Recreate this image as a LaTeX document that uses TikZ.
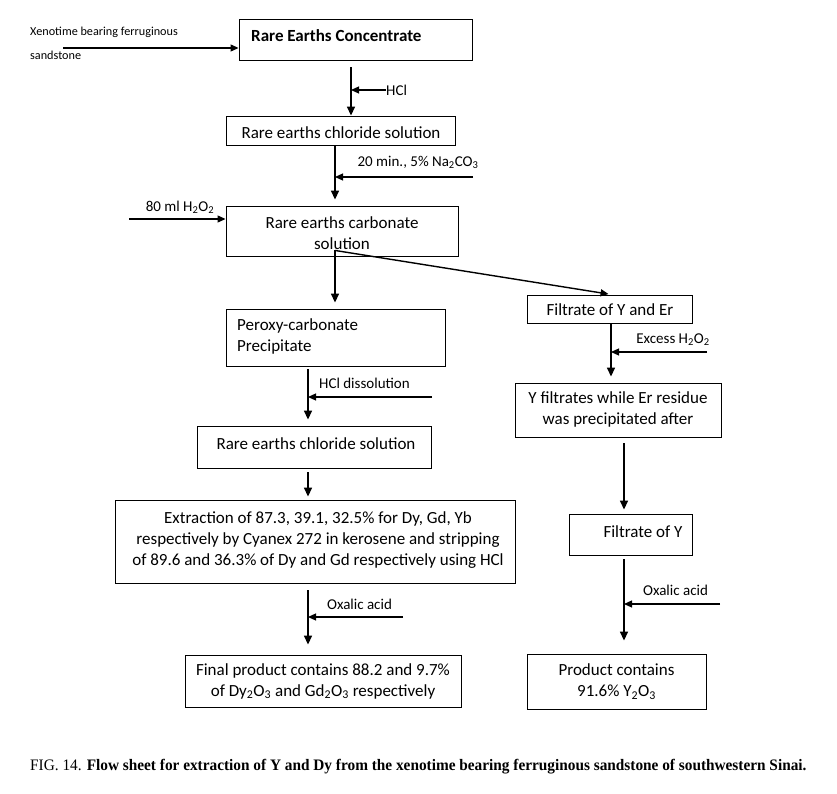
\documentclass[tikz,border=0pt]{standalone}
\usepackage{fontspec}
\setmainfont{Carlito}
\newfontfamily\capfont{Liberation Serif}
\usetikzlibrary{arrows.meta,calc}
\newcommand{\sbs}[1]{\textsubscript{#1}}
\tikzset{
  box/.style={draw, line width=0.9pt, inner sep=0pt, anchor=center},
  boxtxt/.style={font=\fontsize{17}{21}\selectfont, inner sep=0pt, align=center},
  sidetxt/.style={font=\fontsize{15}{17}\selectfont, inner sep=0pt},
  mainarr/.style={line width=1.6pt, -{Triangle[length=9pt,width=8pt]}},
  sidearr/.style={line width=1.2pt, -{Triangle[length=8pt,width=7pt]}},
}
\begin{document}
\begin{tikzpicture}[x=1pt,y=-1pt]
\useasboundingbox (0,0) rectangle (837,794);
% boxes
\node[box, minimum width=233pt, minimum height=41pt] (conc) at (355.5,39.5) {};
\node[anchor=west, inner sep=0pt, font=\fontsize{17}{19}\selectfont\bfseries] (conct) at (251,36) {Rare Earths Concentrate};
\node[box, minimum width=229pt, minimum height=29pt] (chl1) at (340.5,130.5) {};
\node[boxtxt] (chl1t) at (341,133) {Rare earths chloride solution};
\node[box, minimum width=232pt, minimum height=50pt] (carb) at (342,231) {};
\node[boxtxt] (carbt) at (342,233) {Rare earths carbonate\\solution};
\node[box, minimum width=219pt, minimum height=57pt] (perox) at (335.5,337.5) {};
\node[boxtxt, anchor=west, align=left] (peroxt) at (237,336) {Peroxy-carbonate\\Precipitate};
\node[box, minimum width=165pt, minimum height=28pt] (fye) at (609.5,309) {};
\node[boxtxt] (fyet) at (610,310) {Filtrate of Y and Er};
\node[box, minimum width=206pt, minimum height=54pt] (yfil) at (618,410) {};
\node[boxtxt] (yfilt) at (618,409) {Y filtrates while Er residue\\was precipitated after};
\node[box, minimum width=234pt, minimum height=42pt] (chl2) at (314,447) {};
\node[boxtxt] (chl2t) at (316,444) {Rare earths chloride solution};
\node[box, minimum width=400pt, minimum height=83pt] (ext) at (315,541.5) {};
\node[boxtxt] (extt) at (318,540) {Extraction of 87.3, 39.1, 32.5\% for Dy, Gd, Yb\\respectively by Cyanex 272 in kerosene and stripping\\of 89.6 and 36.3\% of Dy and Gd respectively using HCl};
\node[box, minimum width=276pt, minimum height=52pt] (final) at (323,681) {};
\node[boxtxt] (finalt) at (323,681) {Final product contains 88.2 and 9.7\%\\of Dy\sbs{2}O\sbs{3} and Gd\sbs{2}O\sbs{3} respectively};
\node[box, minimum width=123pt, minimum height=41pt] (fy) at (630.5,534.5) {};
\node[boxtxt] (fyt) at (643,532) {Filtrate of Y};
\node[box, minimum width=179pt, minimum height=55pt] (prod) at (616.5,681.5) {};
\node[boxtxt] (prodt) at (616.5,681.5) {Product contains\\91.6\% Y\sbs{2}O\sbs{3}};
% side labels
\node[anchor=west, inner sep=0pt, font=\fontsize{12.2}{14}\selectfont] (xen1) at (30,32) {Xenotime bearing ferruginous};
\node[anchor=west, inner sep=0pt, font=\fontsize{12.2}{14}\selectfont] (xen2) at (30,55) {sandstone};
\coordinate (xs) at (63,48);
\node[sidetxt, anchor=west] (hcl) at (386,90) {HCl};
\node[sidetxt] (na) at (418,162) {20 min., 5\% Na\sbs{2}CO\sbs{3}};
\coordinate (nas) at (473,177);
\node[sidetxt] (h2o2) at (180,207) {80 ml H\sbs{2}O\sbs{2}};
\coordinate (h2s) at (129,219);
\node[sidetxt] (exh) at (673,340) {Excess H\sbs{2}O\sbs{2}};
\coordinate (exs) at (707,352);
\node[sidetxt, anchor=west] (hcld) at (319,383) {HCl dissolution};
\coordinate (hcls) at (432,397);
\node[sidetxt, anchor=west] (ox1) at (327,604) {Oxalic acid};
\coordinate (ox1s) at (403,617);
\node[sidetxt, anchor=west] (ox2) at (643,590) {Oxalic acid};
\coordinate (ox2s) at (720,604);
% column coordinates
\coordinate (c1) at (351,0);
\coordinate (c2) at (335,0);
\coordinate (c3) at (611,0);
\coordinate (c4) at (308,0);
\coordinate (c5) at (624,0);
% arrows
\draw[sidearr] (xs) -- (xs -| conc.west);
\draw[mainarr, shorten <=7pt] (conc.south -| c1) -- (chl1.north -| c1);
\draw[sidearr] (hcl.west) -- (hcl.west -| c1);
\draw[mainarr, shorten >=6pt] (chl1.south -| c2) -- (carb.north -| c2);
\draw[sidearr] (nas) -- (nas -| c2);
\draw[sidearr] (h2s) -- (h2s -| carb.west);
\coordinate (split) at ($(carb.south -| c2)+(0,-6)$);
\draw[mainarr, shorten >=6pt] (split) -- (perox.north -| c2);
\draw[sidearr, line width=1.4pt, shorten >=3pt] (split) -- ($(fye.north)+(2,0)$);
\draw[mainarr, shorten >=6pt] (fye.south -| c3) -- (yfil.north -| c3);
\draw[sidearr] (exs) -- (exs -| c3);
\draw[mainarr, shorten <=3pt, shorten >=6pt] (perox.south -| c4) -- (chl2.north -| c4);
\draw[sidearr] (hcls) -- (hcls -| c4);
\draw[mainarr, shorten <=4pt, shorten >=3pt] (chl2.south -| c4) -- (ext.north -| c4);
\draw[mainarr, shorten <=7pt, shorten >=10pt] (ext.south -| c4) -- (final.north -| c4);
\draw[sidearr] (ox1s) -- (ox1s -| c4);
\draw[mainarr, shorten <=6pt, shorten >=4pt] (yfil.south -| c5) -- (fy.north -| c5);
\draw[mainarr, shorten <=4pt, shorten >=13pt] (fy.south -| c5) -- (prod.north -| c5);
\draw[sidearr] (ox2s) -- (ox2s -| c5);
% caption
\node[anchor=west, inner sep=0pt, font=\capfont\fontsize{16}{18}\selectfont] (cap) at (30,767) {\scalebox{0.957}[1]{FIG. 14. \textbf{Flow sheet for extraction of Y and Dy from the xenotime bearing ferruginous sandstone of southwestern Sinai.}}};
\end{tikzpicture}
\end{document}
